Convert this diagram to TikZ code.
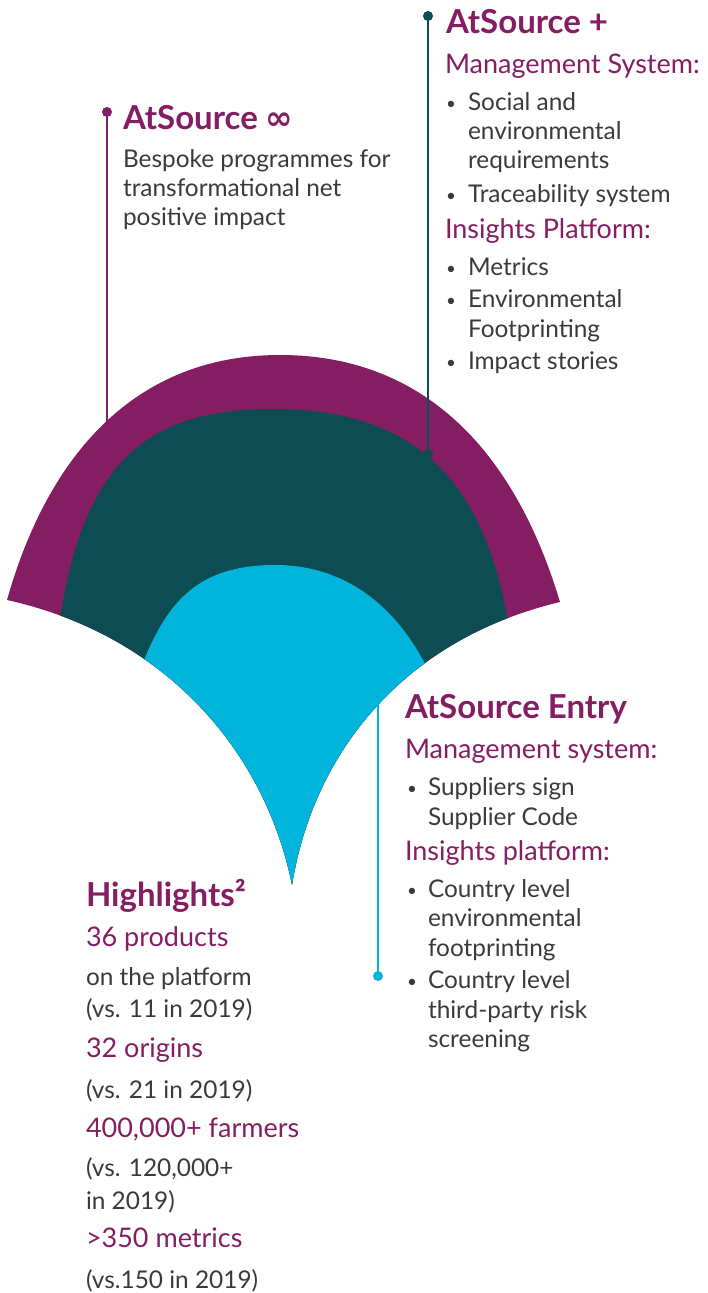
\documentclass[tikz,border=0pt]{standalone}
\usepackage{fontspec}
\setmainfont{Lato}
\newfontfamily\symfont{DejaVu Sans}
\definecolor{opurple}{HTML}{851D62}
\definecolor{oteal}{HTML}{0C4C52}
\definecolor{ocyan}{HTML}{00B4DC}
\definecolor{otext}{HTML}{3A3A3A}
\tikzset{
  txt/.style={anchor=base west, inner sep=0pt, outer sep=0pt, text=otext, font=\fontsize{24.4}{29}\selectfont},
  sub/.style={txt, text=opurple, font=\fontsize{27}{32}\selectfont},
  ttl/.style={txt, text=opurple, font=\bfseries\fontsize{33}{38}\selectfont},
  bul/.style={txt, font=\fontsize{17}{20}\selectfont},
  dotnode/.style={circle, inner sep=0pt, minimum size=10pt},
  link/.style={line width=2.4pt}
}
\begin{document}
\begin{tikzpicture}[x=1pt,y=-1pt]
\useasboundingbox (0,0) rectangle (707,1293);

% ---------- fan shape ----------
\begin{scope}
\clip (-5,300) -- (-5,598) -- (7,600) .. controls (169,636) and (266,755) .. (292,885)
  .. controls (313,755) and (401,640) .. (560,602) -- (575,598) -- (575,300) -- cycle;
\fill[opurple] (3,614) -- (7,600) .. controls (48,455) and (135,355) .. (280,355)
  .. controls (425,355) and (515,452) .. (560,602) -- (564,614) -- (564,900) -- (3,900) -- cycle;
\fill[oteal] (59,622) -- (61,612) .. controls (86,460) and (150,409) .. (272,409)
  .. controls (400,409) and (480,465) .. (507,617) -- (509,627) -- (509,900) -- (59,900) -- cycle;
\fill[ocyan] (144,660) -- (147,653) .. controls (172,595) and (205,565) .. (275,565)
  .. controls (340,565) and (390,600) .. (423,660) -- (428,669) -- (428,900) -- (144,900) -- cycle;
\end{scope}

% ---------- connectors ----------
\node[dotnode, fill=opurple] (dInf) at (107,112) {};
\coordinate (eInf) at (107,424);
\draw[link, opurple] (dInf.center) -- (eInf);

\node[dotnode, fill=oteal] (dPlusTop) at (428,16) {};
\node[dotnode, fill=oteal] (dPlusBot) at (428,454) {};
\draw[link, oteal] (dPlusTop.center) -- (dPlusBot.center);

\coordinate (eEntry) at (378,702);
\node[dotnode, fill=ocyan] (dEntry) at (378,976) {};
\draw[link, ocyan] (eEntry) -- (dEntry.center);

% ---------- AtSource infinity ----------
\node[ttl] (tInf) at (123,129) {AtSource {\symfont\bfseries ∞}};
\node[txt] (i1) at (123,167) {Bespoke programmes for};
\node[txt] (i2) at (123,196) {transformational net};
\node[txt] (i3) at (123,225) {positive impact};

% ---------- AtSource + ----------
\node[ttl] (tPlus) at (446,33) {AtSource +};
\node[sub] (p0) at (445,73) {Management System:};
\node[bul] (pb1) at (446,109) {•};
\node[txt] (p1) at (468,110) {Social and};
\node[txt] (p2) at (468,139) {environmental};
\node[txt] (p3) at (468,168) {requirements};
\node[bul] (pb2) at (446,201) {•};
\node[txt] (p4) at (468,202) {Traceability system};
\node[sub] (p5) at (445,238) {Insights Platform:};
\node[bul] (pb3) at (446,274) {•};
\node[txt] (p6) at (468,275) {Metrics};
\node[bul] (pb4) at (446,306) {•};
\node[txt] (p7) at (468,307) {Environmental};
\node[txt] (p8) at (468,337) {Footprinting};
\node[bul] (pb5) at (446,368) {•};
\node[txt] (p9) at (468,369) {Impact stories};

% ---------- AtSource Entry ----------
\node[ttl] (tEntry) at (405,718) {AtSource Entry};
\node[sub] (e0) at (405,758) {Management system:};
\node[bul] (eb1) at (407,794) {•};
\node[txt] (e1) at (428,795) {Suppliers sign};
\node[txt] (e2) at (428,825) {Supplier Code};
\node[sub] (e3) at (405,860) {Insights platform:};
\node[bul] (eb2) at (407,896) {•};
\node[txt] (e4) at (428,897) {Country level};
\node[txt] (e5) at (428,926) {environmental};
\node[txt] (e6) at (428,956) {footprinting};
\node[bul] (eb3) at (407,987) {•};
\node[txt] (e7) at (428,988) {Country level};
\node[txt] (e8) at (428,1018) {third-party risk};
\node[txt] (e9) at (428,1047) {screening};

% ---------- Highlights ----------
\node[ttl] (tHigh) at (86,906) {Highlights²};
\node[sub] (h1) at (86,946) {36 products};
\node[txt] (h2) at (86,985) {on the platform};
\node[txt] (h3) at (86,1017) {(vs. 11 in 2019)};
\node[sub] (h4) at (86,1057) {32 origins};
\node[txt] (h5) at (86,1098) {(vs. 21 in 2019)};
\node[sub] (h6) at (86,1137) {400,000+ farmers};
\node[txt] (h7) at (86,1176) {(vs. 120,000+};
\node[txt] (h8) at (86,1209) {in 2019)};
\node[sub] (h9) at (86,1247) {>350 metrics};
\node[txt] (h10) at (86,1288) {(vs.150 in 2019)};
\end{tikzpicture}
\end{document}
